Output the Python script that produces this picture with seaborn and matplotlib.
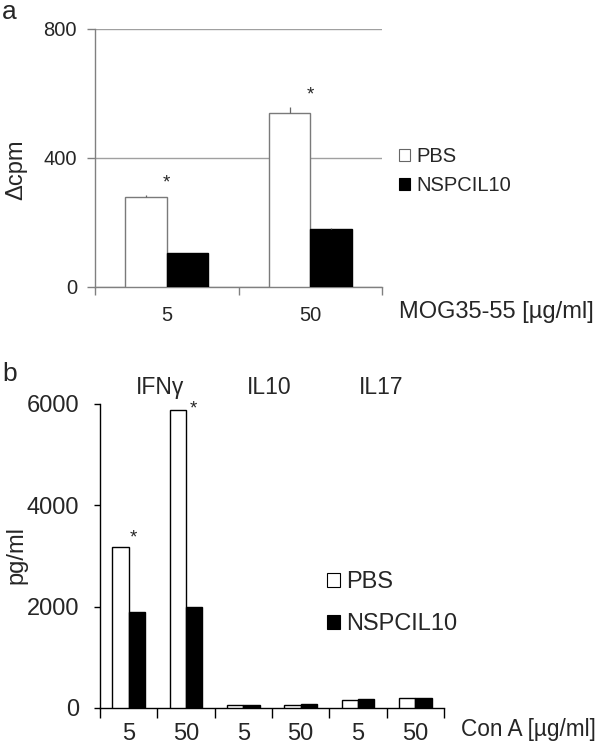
import matplotlib
matplotlib.use('Agg')
import matplotlib.pyplot as plt
import matplotlib.transforms as mtransforms
import seaborn as sns
import pandas as pd
from matplotlib.patches import Patch

sns.set_theme(style='white')
plt.rcParams['font.family'] = ['Liberation Sans', 'DejaVu Sans']

# ---------------- data ----------------
groups = ['PBS', 'NSPCIL10']

dose_a = ['5', '50']
pbs_a = [279, 540]
nsp_a = [104, 179]
pbs_a_err = [5, 18]
nsp_a_err = [2, 3]

cyto_b = ['IFNγ', 'IFNγ', 'IL10', 'IL10', 'IL17', 'IL17']
dose_b = ['5', '50', '5', '50', '5', '50']
pbs_b = [3180, 5880, 67, 53, 165, 197]
nsp_b = [1900, 1990, 53, 87, 185, 197]
cyto_names = ['IFNγ', 'IL10', 'IL17']
yticks_a = [0, 400, 800]
yticks_b = [0, 2000, 4000, 6000]

W, H = 600, 746
fig = plt.figure(figsize=(W / 100, H / 100), dpi=100)
ax_a = fig.add_axes([95 / W, 1 - 287 / H, (382 - 95) / W, (287 - 29) / H])
ax_b = fig.add_axes([100 / W, 1 - 708 / H, (444 - 100) / W, (708 - 404) / H])

pal = {'PBS': 'white', 'NSPCIL10': 'black'}

# ---------------- panel a ----------------
df_a = pd.DataFrame({
    'dose': dose_a + dose_a,
    'group': [groups[0]] * len(dose_a) + [groups[1]] * len(dose_a),
    'value': pbs_a + nsp_a,
})
sns.barplot(data=df_a, x='dose', y='value', hue='group', hue_order=groups,
            palette=pal, width=0.575, errorbar=None, legend=False, ax=ax_a,
            linewidth=1.0, edgecolor='#7a7a7a', zorder=3)
for bar in ax_a.containers[1]:
    bar.set_edgecolor('black')
for cont, errs in zip(ax_a.containers, [pbs_a_err, nsp_a_err]):
    xs = [p.get_x() + p.get_width() / 2 for p in cont]
    hs = [p.get_height() for p in cont]
    ax_a.errorbar(xs, hs, yerr=[[0] * len(errs), errs], fmt='none',
                  ecolor='#666666', elinewidth=0.9, capsize=0, zorder=4)

ax_a.set_ylim(0, 800)
ax_a.set_xlim(-0.5, len(dose_a) - 0.5)
ax_a.set_yticks(yticks_a)
ax_a.set_yticklabels([str(v) for v in yticks_a])
ax_a.yaxis.grid(True, color='#a0a0a0', lw=1.0)
ax_a.set_axisbelow(True)
for s in ['top', 'right']:
    ax_a.spines[s].set_visible(False)
for s in ['left', 'bottom']:
    ax_a.spines[s].set_color('#808080')
    ax_a.spines[s].set_linewidth(1.0)
ax_a.set_xticks(range(len(dose_a)))
ax_a.set_xticklabels(dose_a)
ax_a.set_xticks([i - 0.5 for i in range(len(dose_a) + 1)], minor=True)
ax_a.tick_params(axis='x', which='major', length=0, pad=14, labelsize=14.5)
ax_a.tick_params(axis='x', which='minor', length=6, color='#808080',
                 direction='out', bottom=True, width=1)
ax_a.tick_params(axis='y', length=6, color='#808080', direction='out',
                 left=True, pad=7, labelsize=14.5, width=1)
ax_a.set_xlabel('')
ax_a.set_ylabel('')

for i, (v, e) in enumerate(zip(pbs_a, pbs_a_err)):
    ax_a.annotate('*', xy=(i, v + e), xytext=(0, 9), textcoords='offset points',
                  ha='center', va='center', fontsize=13.5)

fig.text(16 / W, 1 - 170 / H, 'Δcpm', rotation=90, ha='center', va='center',
         fontsize=17)
fig.text(399 / W, 1 - 318 / H, 'MOG35-55 [µg/ml]', ha='left',
         va='baseline', fontsize=17)
fig.text(2 / W, 1 - 19 / H, 'a', ha='left', va='baseline', fontsize=19)

fig.legend(handles=[Patch(fc='white', ec='#666666', lw=0.8),
                    Patch(fc='black', ec='black', lw=0.8)],
           labels=groups, loc='upper left',
           bbox_to_anchor=(399 / W, 1 - 147 / H), frameon=False,
           handlelength=0.55, handleheight=0.55, handletextpad=0.3,
           labelspacing=0.5, fontsize=14.5, borderpad=0, borderaxespad=0)

# ---------------- panel b ----------------
cat_b = [f'{c}|{d}' for c, d in zip(cyto_b, dose_b)]
df_b = pd.DataFrame({
    'cat': cat_b + cat_b,
    'group': [groups[0]] * len(cat_b) + [groups[1]] * len(cat_b),
    'value': pbs_b + nsp_b,
})
sns.barplot(data=df_b, x='cat', y='value', hue='group', hue_order=groups,
            order=cat_b, palette=pal, width=0.57, errorbar=None, legend=False,
            ax=ax_b, linewidth=1.0, edgecolor='black', zorder=3)

ax_b.set_ylim(0, 6000)
ax_b.set_xlim(-0.5, len(cat_b) - 0.5)
ax_b.set_yticks(yticks_b)
ax_b.set_yticklabels([str(v) for v in yticks_b])
for s in ['top', 'right']:
    ax_b.spines[s].set_visible(False)
for s in ['left', 'bottom']:
    ax_b.spines[s].set_color('black')
    ax_b.spines[s].set_linewidth(1.0)
ax_b.set_xticks(range(len(cat_b)))
ax_b.set_xticklabels(dose_b)
ax_b.set_xticks([i - 0.5 for i in range(len(cat_b) + 1)], minor=True)
ax_b.tick_params(axis='x', which='major', length=0, pad=11, labelsize=17)
ax_b.tick_params(axis='x', which='minor', length=7, color='black',
                 direction='out', bottom=True, width=1)
ax_b.tick_params(axis='y', length=4, color='black', direction='out',
                 left=True, pad=11, labelsize=17, width=1)
ax_b.set_xlabel('')
ax_b.set_ylabel('')

# significance stars (IFNγ)
pbs_cont = ax_b.containers[0]
for i in range(2):
    p = pbs_cont[i]
    xs = p.get_x() + p.get_width() + 0.09 + 0.03 * i
    ax_b.text(xs, min(pbs_b[i] + 175, 5900), '*',
              ha='center', va='center', fontsize=13.5)

# cytokine group labels
trans = mtransforms.blended_transform_factory(ax_b.transData, ax_b.transAxes)
shifts = [0.05, -0.05, -0.1]
for k, name in enumerate(cyto_names):
    idx = [i for i, c in enumerate(cyto_b) if c == name]
    xc = sum(idx) / len(idx) + shifts[k]
    ax_b.text(xc, 1.053, name, transform=trans, ha='center', va='center',
              fontsize=16.5)

fig.text(16 / W, 1 - 555 / H, 'pg/ml', rotation=90, ha='center', va='center',
         fontsize=17)
fig.text(461 / W, 1 - 736 / H, 'Con A [µg/ml]', ha='left', va='baseline',
         fontsize=16.3)
fig.text(2 / W, 1 - 381 / H, 'b', ha='left', va='baseline', fontsize=19)

fig.legend(handles=[Patch(fc='white', ec='black', lw=0.8),
                    Patch(fc='black', ec='black', lw=0.8)],
           labels=groups, loc='upper left',
           bbox_to_anchor=(327 / W, 1 - 571 / H), frameon=False,
           handlelength=0.55, handleheight=0.55, handletextpad=0.25,
           labelspacing=0.85, fontsize=17, borderpad=0, borderaxespad=0)

fig.savefig('out.png', dpi=100)
